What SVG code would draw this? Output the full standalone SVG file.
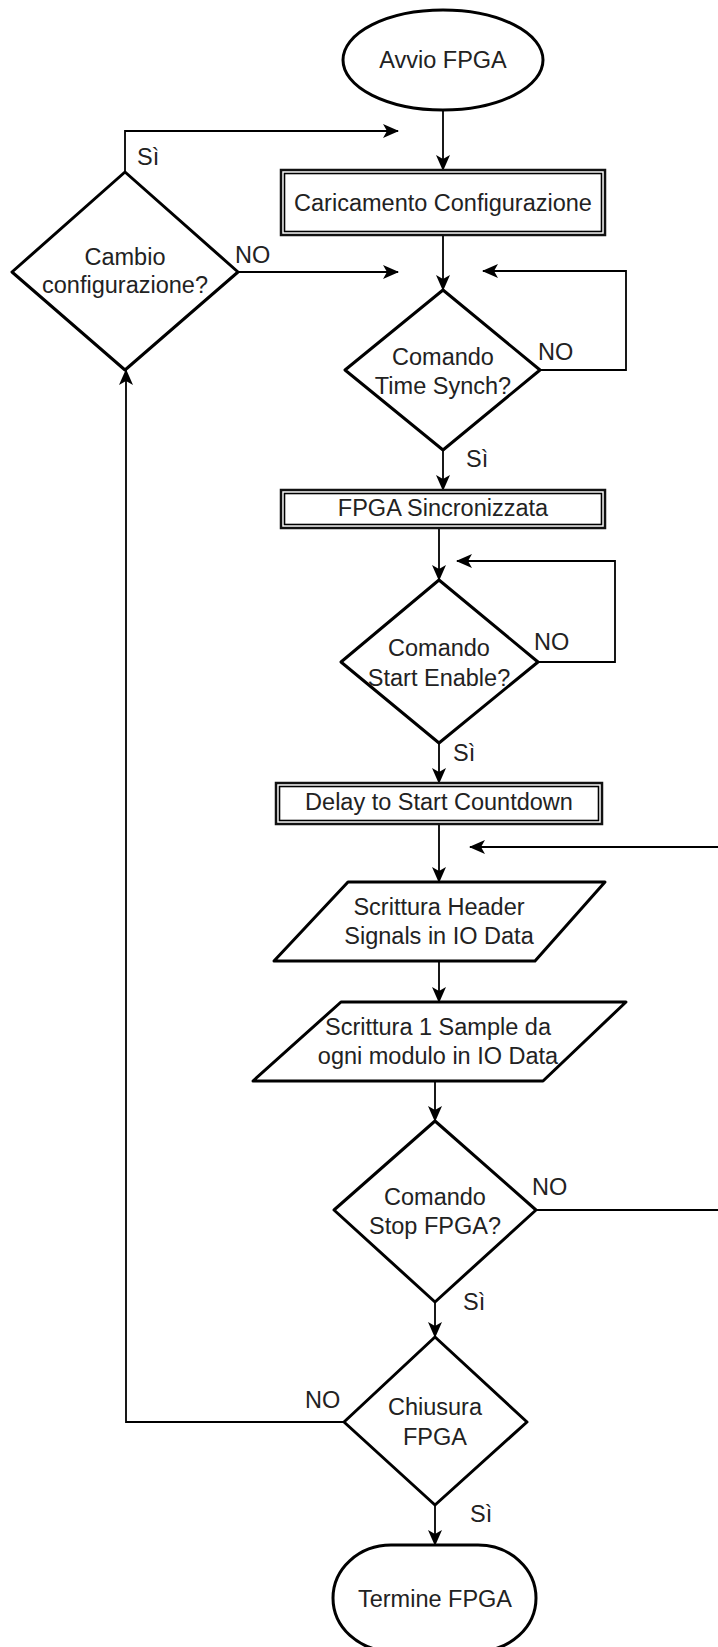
<svg xmlns="http://www.w3.org/2000/svg" width="718" height="1647" viewBox="0 0 718 1647">
<style>
  .shape { fill: #ffffff; stroke: #000000; stroke-width: 3; stroke-linejoin: round; }
  .box { fill: #ffffff; stroke: #111111; stroke-width: 2.5; }
  .inner { fill: none; stroke: #000000; stroke-width: 1.6; }
  .edge { fill: none; stroke: #000000; stroke-width: 1.8; }
  .t { font-family: "Liberation Sans", Arial, Helvetica, sans-serif; font-size: 23.5px; fill: #222222; text-anchor: middle; }
  .lbl { font-family: "Liberation Sans", Arial, Helvetica, sans-serif; font-size: 23.5px; fill: #222222; text-anchor: start; }
</style>
<defs>
  <marker id="arr" viewBox="0 0 16 14" refX="15" refY="7" markerWidth="16" markerHeight="14" markerUnits="userSpaceOnUse" orient="auto">
    <path d="M0,0 L16,7 L0,14 L4,7 Z" fill="#000000"/>
  </marker>
</defs>
<rect width="718" height="1647" fill="#ffffff"/>

<g id="connectors">
  <path class="edge" d="M443,110 L443,170" marker-end="url(#arr)"/>
  <path class="edge" d="M125,172 L125,131 L398,131" marker-end="url(#arr)"/>
  <path class="edge" d="M238,272 L398,272" marker-end="url(#arr)"/>
  <path class="edge" d="M443,235 L443,290" marker-end="url(#arr)"/>
  <path class="edge" d="M540,370 L626,370 L626,271 L483,271" marker-end="url(#arr)"/>
  <path class="edge" d="M443,450 L443,490" marker-end="url(#arr)"/>
  <path class="edge" d="M439,528 L439,580" marker-end="url(#arr)"/>
  <path class="edge" d="M538,662 L615,662 L615,561 L457,561" marker-end="url(#arr)"/>
  <path class="edge" d="M439,743 L439,783" marker-end="url(#arr)"/>
  <path class="edge" d="M439,824 L439,882" marker-end="url(#arr)"/>
  <path class="edge" d="M718,847 L470,847" marker-end="url(#arr)"/>
  <path class="edge" d="M439,961 L439,1002" marker-end="url(#arr)"/>
  <path class="edge" d="M435,1081 L435,1121" marker-end="url(#arr)"/>
  <path class="edge" d="M536,1210 L718,1210"/>
  <path class="edge" d="M435,1302 L435,1337" marker-end="url(#arr)"/>
  <path class="edge" d="M344,1422 L126,1422 L126,370" marker-end="url(#arr)"/>
  <path class="edge" d="M435,1505 L435,1545" marker-end="url(#arr)"/>
  <text class="lbl" x="137" y="165">Sì</text>
  <text class="lbl" x="235" y="263">NO</text>
  <text class="lbl" x="538" y="360">NO</text>
  <text class="lbl" x="466" y="467">Sì</text>
  <text class="lbl" x="534" y="650">NO</text>
  <text class="lbl" x="453" y="761">Sì</text>
  <text class="lbl" x="532" y="1195">NO</text>
  <text class="lbl" x="463" y="1310">Sì</text>
  <text class="lbl" x="305" y="1408">NO</text>
  <text class="lbl" x="470" y="1522">Sì</text>
</g>

<g id="avvio">
  <ellipse class="shape" cx="443" cy="60" rx="100" ry="50"/>
  <text class="t" x="443" y="68">Avvio FPGA</text>
</g>

<g id="caricamento">
  <rect class="box" x="281" y="170" width="324" height="65"/>
  <rect class="inner" x="284.5" y="173.5" width="317" height="58"/>
  <text class="t" x="443" y="211">Caricamento Configurazione</text>
</g>

<g id="cambio">
  <polygon class="shape" points="125,172 238,272 125,370 12,272"/>
  <text class="t" x="125" y="265">Cambio</text>
  <text class="t" x="125" y="293">configurazione?</text>
</g>

<g id="timesynch">
  <polygon class="shape" points="443,290 540,370 443,450 345,370"/>
  <text class="t" x="443" y="365">Comando</text>
  <text class="t" x="443" y="394">Time Synch?</text>
</g>

<g id="sincronizzata">
  <rect class="box" x="281" y="490" width="324" height="38"/>
  <rect class="inner" x="284.5" y="493.5" width="317" height="31"/>
  <text class="t" x="443" y="516">FPGA Sincronizzata</text>
</g>

<g id="startenable">
  <polygon class="shape" points="439,580 538,662 439,743 341,662"/>
  <text class="t" x="439" y="656">Comando</text>
  <text class="t" x="439" y="686">Start Enable?</text>
</g>

<g id="delay">
  <rect class="box" x="276" y="783" width="326" height="41"/>
  <rect class="inner" x="279.5" y="786.5" width="319" height="34"/>
  <text class="t" x="439" y="810">Delay to Start Countdown</text>
</g>

<g id="header">
  <polygon class="shape" points="348,882 605,882 535,961 274,961"/>
  <text class="t" x="439" y="915">Scrittura Header</text>
  <text class="t" x="439" y="944">Signals in IO Data</text>
</g>

<g id="sample">
  <polygon class="shape" points="341,1002 626,1002 543,1081 253,1081"/>
  <text class="t" x="438" y="1035">Scrittura 1 Sample da</text>
  <text class="t" x="438" y="1064">ogni modulo in IO Data</text>
</g>

<g id="stop">
  <polygon class="shape" points="435,1121 536,1210 435,1302 334,1210"/>
  <text class="t" x="435" y="1205">Comando</text>
  <text class="t" x="435" y="1234">Stop FPGA?</text>
</g>

<g id="chiusura">
  <polygon class="shape" points="435,1337 527,1422 435,1505 344,1422"/>
  <text class="t" x="435" y="1415">Chiusura</text>
  <text class="t" x="435" y="1445">FPGA</text>
</g>

<g id="termine">
  <rect class="shape" x="333" y="1545" width="203" height="106" rx="58" ry="53"/>
  <text class="t" x="435" y="1607">Termine FPGA</text>
</g>
</svg>
